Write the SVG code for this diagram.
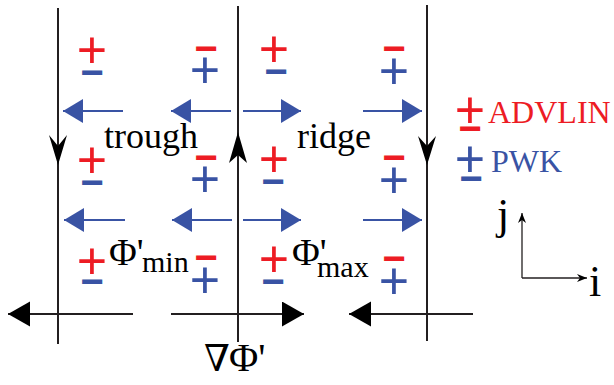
<svg xmlns="http://www.w3.org/2000/svg" width="614" height="385" viewBox="0 0 614 385">
<style>
.bg{fill:#ffffff}
.ln{stroke:#231f20;stroke-width:2;fill:none}
.bl{stroke:#3953a4;stroke-width:2;fill:none}
.head{fill:#000000;stroke:none}
.ax{stroke:#231f20;stroke-width:1.3;fill:none}
.lbl{fill:#000000}
.s{font-family:'Liberation Sans',Arial,sans-serif;text-anchor:middle}
.p{font-size:52px;font-weight:normal}
.m{font-size:40px;font-weight:bold}
.r{fill:#ed1c24}
.b{fill:#3953a4}
</style>
<defs>
<marker id="ab" markerUnits="userSpaceOnUse" markerWidth="22" markerHeight="26" refX="20" refY="12" orient="auto" viewBox="0 0 22 26">
<path d="M0,0 L20,12 L0,24 z" fill="#3953a4"/>
</marker>
<marker id="ak" markerUnits="userSpaceOnUse" markerWidth="24" markerHeight="27" refX="22" refY="12.5" orient="auto" viewBox="0 0 24 27">
<path d="M0,0 L22,12.5 L0,25 z" fill="#000000"/>
</marker>
<marker id="as" markerUnits="userSpaceOnUse" markerWidth="12" markerHeight="10" refX="10" refY="4" orient="auto" viewBox="0 0 12 10">
<path d="M0,0 L10,4 L0,8 L3,4 z" fill="#000000"/>
</marker>
</defs>
<rect class="bg" x="0" y="0" width="614" height="385"/>
<g id="connectors">
<line class="ln" x1="58" y1="8" x2="58" y2="344"/>
<line class="ln" x1="238" y1="6" x2="238" y2="342"/>
<line class="ln" x1="427" y1="5" x2="427" y2="341"/>
<path class="head" d="M58,165 L49,135 L58,146 L67,135 z"/>
<path class="head" d="M238,132 L229,163 L238,155 L247,163 z"/>
<path class="head" d="M427,165 L418,136 L427,146 L436,136 z"/>
<line class="ln" x1="133" y1="314" x2="8" y2="314" marker-end="url(#ak)"/>
<line class="ln" x1="171" y1="314" x2="304" y2="314" marker-end="url(#ak)"/>
<line class="ln" x1="473" y1="314" x2="349" y2="314" marker-end="url(#ak)"/>
<line class="bl" x1="123" y1="111" x2="63" y2="111" marker-end="url(#ab)"/>
<line class="bl" x1="231" y1="111" x2="171" y2="111" marker-end="url(#ab)"/>
<line class="bl" x1="243" y1="111" x2="301" y2="111" marker-end="url(#ab)"/>
<line class="bl" x1="363" y1="111" x2="422" y2="111" marker-end="url(#ab)"/>
<line class="bl" x1="125" y1="220" x2="64" y2="220" marker-end="url(#ab)"/>
<line class="bl" x1="232" y1="220" x2="172" y2="220" marker-end="url(#ab)"/>
<line class="bl" x1="243" y1="220" x2="301" y2="220" marker-end="url(#ab)"/>
<line class="bl" x1="363" y1="220" x2="422" y2="220" marker-end="url(#ab)"/>
<line class="ax" x1="522" y1="278" x2="522" y2="213" marker-end="url(#as)"/>
<line class="ax" x1="522" y1="278" x2="587" y2="278" marker-end="url(#as)"/>
</g>
<g id="signs">
<text class="s"><tspan class="p r" x="92" y="68">+</tspan><tspan class="m b" x="92" y="86">−</tspan></text>
<text class="s"><tspan class="m r" x="206" y="62">−</tspan><tspan class="p b" x="205" y="88">+</tspan></text>
<text class="s"><tspan class="p r" x="274" y="67">+</tspan><tspan class="m b" x="276" y="85">−</tspan></text>
<text class="s"><tspan class="m r" x="394" y="62">−</tspan><tspan class="p b" x="394" y="89">+</tspan></text>
<text class="s"><tspan class="p r" x="92" y="178">+</tspan><tspan class="m b" x="92" y="196">−</tspan></text>
<text class="s"><tspan class="m r" x="206" y="171">−</tspan><tspan class="p b" x="205" y="197">+</tspan></text>
<text class="s"><tspan class="p r" x="274" y="177">+</tspan><tspan class="m b" x="273" y="195">−</tspan></text>
<text class="s"><tspan class="m r" x="394" y="171">−</tspan><tspan class="p b" x="394" y="198">+</tspan></text>
<text class="s"><tspan class="p r" x="92" y="279">+</tspan><tspan class="m b" x="92" y="295">−</tspan></text>
<text class="s"><tspan class="m r" x="206" y="271">−</tspan><tspan class="p b" x="205" y="298">+</tspan></text>
<text class="s"><tspan class="p r" x="274" y="277">+</tspan><tspan class="m b" x="273" y="295">−</tspan></text>
<text class="s"><tspan class="m r" x="394" y="272">−</tspan><tspan class="p b" x="394" y="299">+</tspan></text>
</g>
<g id="trough"><text class="lbl" font-family="'Liberation Serif','Times New Roman',serif" x="104" y="148" font-size="36">trough</text></g>
<g id="ridge"><text class="lbl" font-family="'Liberation Serif','Times New Roman',serif" x="297" y="148" font-size="36">ridge</text></g>
<g id="phimin"><text class="lbl" font-family="'Liberation Serif','Times New Roman',serif" x="109" y="265" font-size="38">Φ'<tspan x="142" y="272" font-size="30">min</tspan></text></g>
<g id="phimax"><text class="lbl" font-family="'Liberation Serif','Times New Roman',serif" x="292" y="265" font-size="38">Φ'<tspan x="317" y="277" font-size="30">max</tspan></text></g>
<g id="gradphi"><text class="lbl" font-family="'Liberation Serif','DejaVu Serif',serif" x="204" y="371" font-size="37">∇<tspan x="229" font-size="40">Φ'</tspan></text></g>
<g id="legend-advlin">
<text class="s"><tspan class="p r" x="470" y="128">+</tspan><tspan class="m r" x="470" y="142">−</tspan></text>
<text class="r" font-family="'Liberation Serif','Times New Roman',serif" x="488" y="123" font-size="32">ADVLIN</text>
</g>
<g id="legend-pwk">
<text class="s"><tspan class="p b" x="470" y="177">+</tspan><tspan class="m b" x="471" y="192">−</tspan></text>
<text class="b" font-family="'Liberation Serif','Times New Roman',serif" x="491" y="172" font-size="32">PWK</text>
</g>
<g id="axes-labels">
<text class="lbl" font-family="'Liberation Serif','Times New Roman',serif" x="497" y="229" font-size="44">j</text>
<text class="lbl" font-family="'Liberation Serif','Times New Roman',serif" x="589" y="296" font-size="44">i</text>
</g>
</svg>
